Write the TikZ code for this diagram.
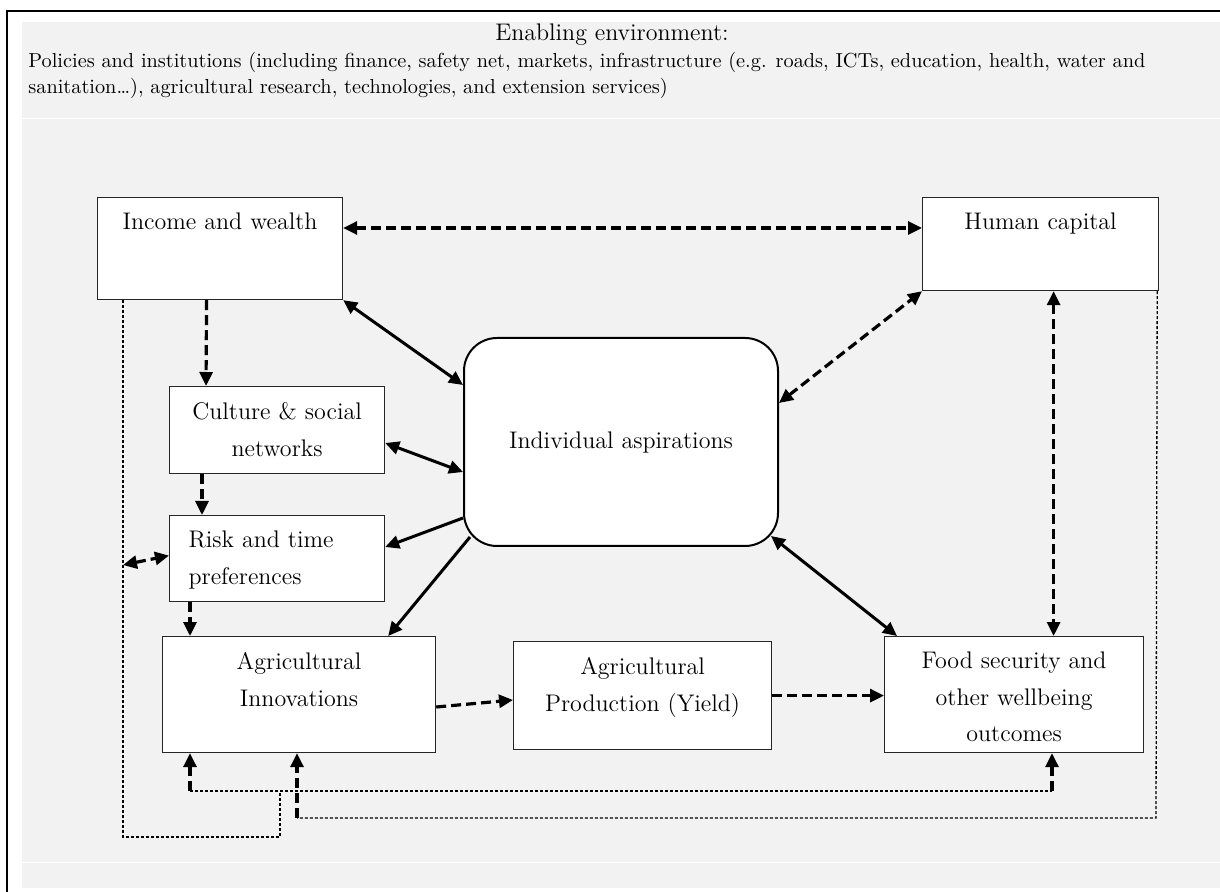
\documentclass[tikz,border=0pt]{standalone}
\usepackage{xcolor}
\usepackage{tikz}
\usetikzlibrary{arrows.meta, positioning}

\definecolor{envgray}{HTML}{F2F2F2}
\newcommand{\boxfont}{\fontsize{12}{18.3}\selectfont}

\tikzset{
  box/.style={draw=black!85, fill=white, line width=0.6pt, inner sep=0pt, align=center, font=\boxfont},
  solidarrow/.style={line width=1.5pt},
  dasharrow/.style={line width=1.6pt, dash pattern=on 5pt off 2.5pt},
  dotline/.style={line width=0.65pt, dash pattern=on 1.5pt off 1pt},
}

\begin{document}
\begin{tikzpicture}[x=0.5pt, y=-0.5pt, >={Triangle[length=7pt, width=6.5pt]}]

    \useasboundingbox (0,0) rectangle (1220,892);
    \fill[envgray] (22,22) rectangle (1220,888);
    \draw[white, line width=0.5pt] (22,119) -- (1220,119);
    \draw[white, line width=0.5pt] (22,862) -- (1220,862);
    \draw[line width=0.7pt] (1220,11) -- (7,11) -- (7,892);

    \node[font=\fontsize{12}{14}\selectfont] (title) at (612,35) {Enabling environment:};
    \node[anchor=north west, align=left, inner sep=0pt, font=\fontsize{10.15}{13}\selectfont] (policy) at (28,52)
        {Policies and institutions (including finance, safety net, markets, infrastructure (e.g. roads, ICTs, education, health, water and\\
         sanitation\ldots), agricultural research, technologies, and extension services)};

    % boxes
    \node[box, anchor=north west, text width=122.5pt, text height=16pt, text depth=35pt] (inc) at (97,197) {Income and wealth};
    \node[box, anchor=north west, text width=118pt, text height=16pt, text depth=30.5pt] (hum) at (922,197) {Human capital};
    \node[box, anchor=north west, text width=157pt, text height=55.5pt, text depth=48.5pt,
          draw=black, line width=1pt, rounded corners=16.5pt] (asp) at (463,337) {Individual aspirations};
    \node[box, anchor=north west, text width=107.5pt, text height=16.5pt, text depth=27pt] (cul) at (169,386) {Culture \& social\\networks};
    \node[box, anchor=north west, align=left, inner xsep=9.5pt, text width=88.5pt, text height=16pt, text depth=27pt] (risk) at (169,515) {Risk and time\\preferences};
    \node[box, anchor=north west, text width=136.5pt, text height=16.5pt, text depth=41.5pt] (inno) at (162,636) {Agricultural\\Innovations};
    \node[box, anchor=north west, text width=129pt, text height=16.5pt, text depth=37.5pt] (prod) at (513,641) {Agricultural\\Production (Yield)};
    \node[box, anchor=north west, text width=129.5pt, text height=16pt, text depth=42pt] (food) at (884,636) {Food security and\\other wellbeing\\outcomes};

    % corners of the feedback lines
    \coordinate (rk) at (123,565);
    \coordinate (b1) at (190,791);
    \coordinate (b2) at (1052,791);
    \coordinate (c1) at (297,818);
    \coordinate (c2) at (1156,818);
    \coordinate (d1) at (123,837);
    \coordinate (d2) at (280,837);
    \coordinate (d3) at (280,791);

    \draw[dasharrow, <->] ([yshift=-15.5pt]inc.north east) -- ([yshift=-15.5pt]hum.north west);
    \draw[dasharrow, ->] ([xshift=-6.75pt]inc.south) -- ([xshift=18.5pt]cul.north west);
    \draw[solidarrow, <->] (inc.south east) -- ([yshift=-24pt]asp.north west);
    \draw[solidarrow, <->] ([yshift=-28.5pt]cul.north east) -- ([yshift=-67.5pt]asp.north west);
    \draw[dasharrow, ->] ([xshift=16.5pt]cul.south west) -- ([xshift=16.5pt]risk.north west);
    \draw[solidarrow, ->] ([yshift=-90.5pt]asp.north west) -- ([yshift=-16pt]risk.north east);
    \draw[solidarrow, ->] ([xshift=3.5pt, yshift=5pt]asp.south west) -- ([xshift=-24pt]inno.north east);
    \draw[dasharrow, ->] ([xshift=10.5pt]risk.south west) -- ([xshift=14pt]inno.north west);
    \draw[dasharrow, <->] (rk) -- ([yshift=1.5pt]risk.west);
    \draw[dasharrow, <->] ([yshift=-33pt]asp.north east) -- (hum.south west);
    \draw[dasharrow, <->] ([xshift=6.5pt]hum.south) -- ([xshift=19.75pt]food.north);
    \draw[solidarrow, <->] ([xshift=-4pt, yshift=5.5pt]asp.south east) -- ([xshift=6.5pt]food.north west);
    \draw[dasharrow, ->] ([yshift=-35.5pt]inno.north east) -- ([yshift=-29.5pt]prod.north west);
    \draw[dasharrow, ->] (prod.east) -- (prod.east -| food.west);

    % feedback lines
    \draw[dotline] ([xshift=13pt]inc.south west) -- (d1) -- (d2) -- (d3);
    \draw[dotline] (b1) -- (b2);
    \draw[dotline] ([xshift=-1pt]hum.south east) -- (c2) -- (c1);
    \draw[dasharrow, ->] (b1) -- (b1 |- inno.south);
    \draw[dasharrow, ->] (b2) -- (b2 |- food.south);
    \draw[dasharrow, ->] (c1) -- (c1 |- inno.south);
\end{tikzpicture}
\end{document}
